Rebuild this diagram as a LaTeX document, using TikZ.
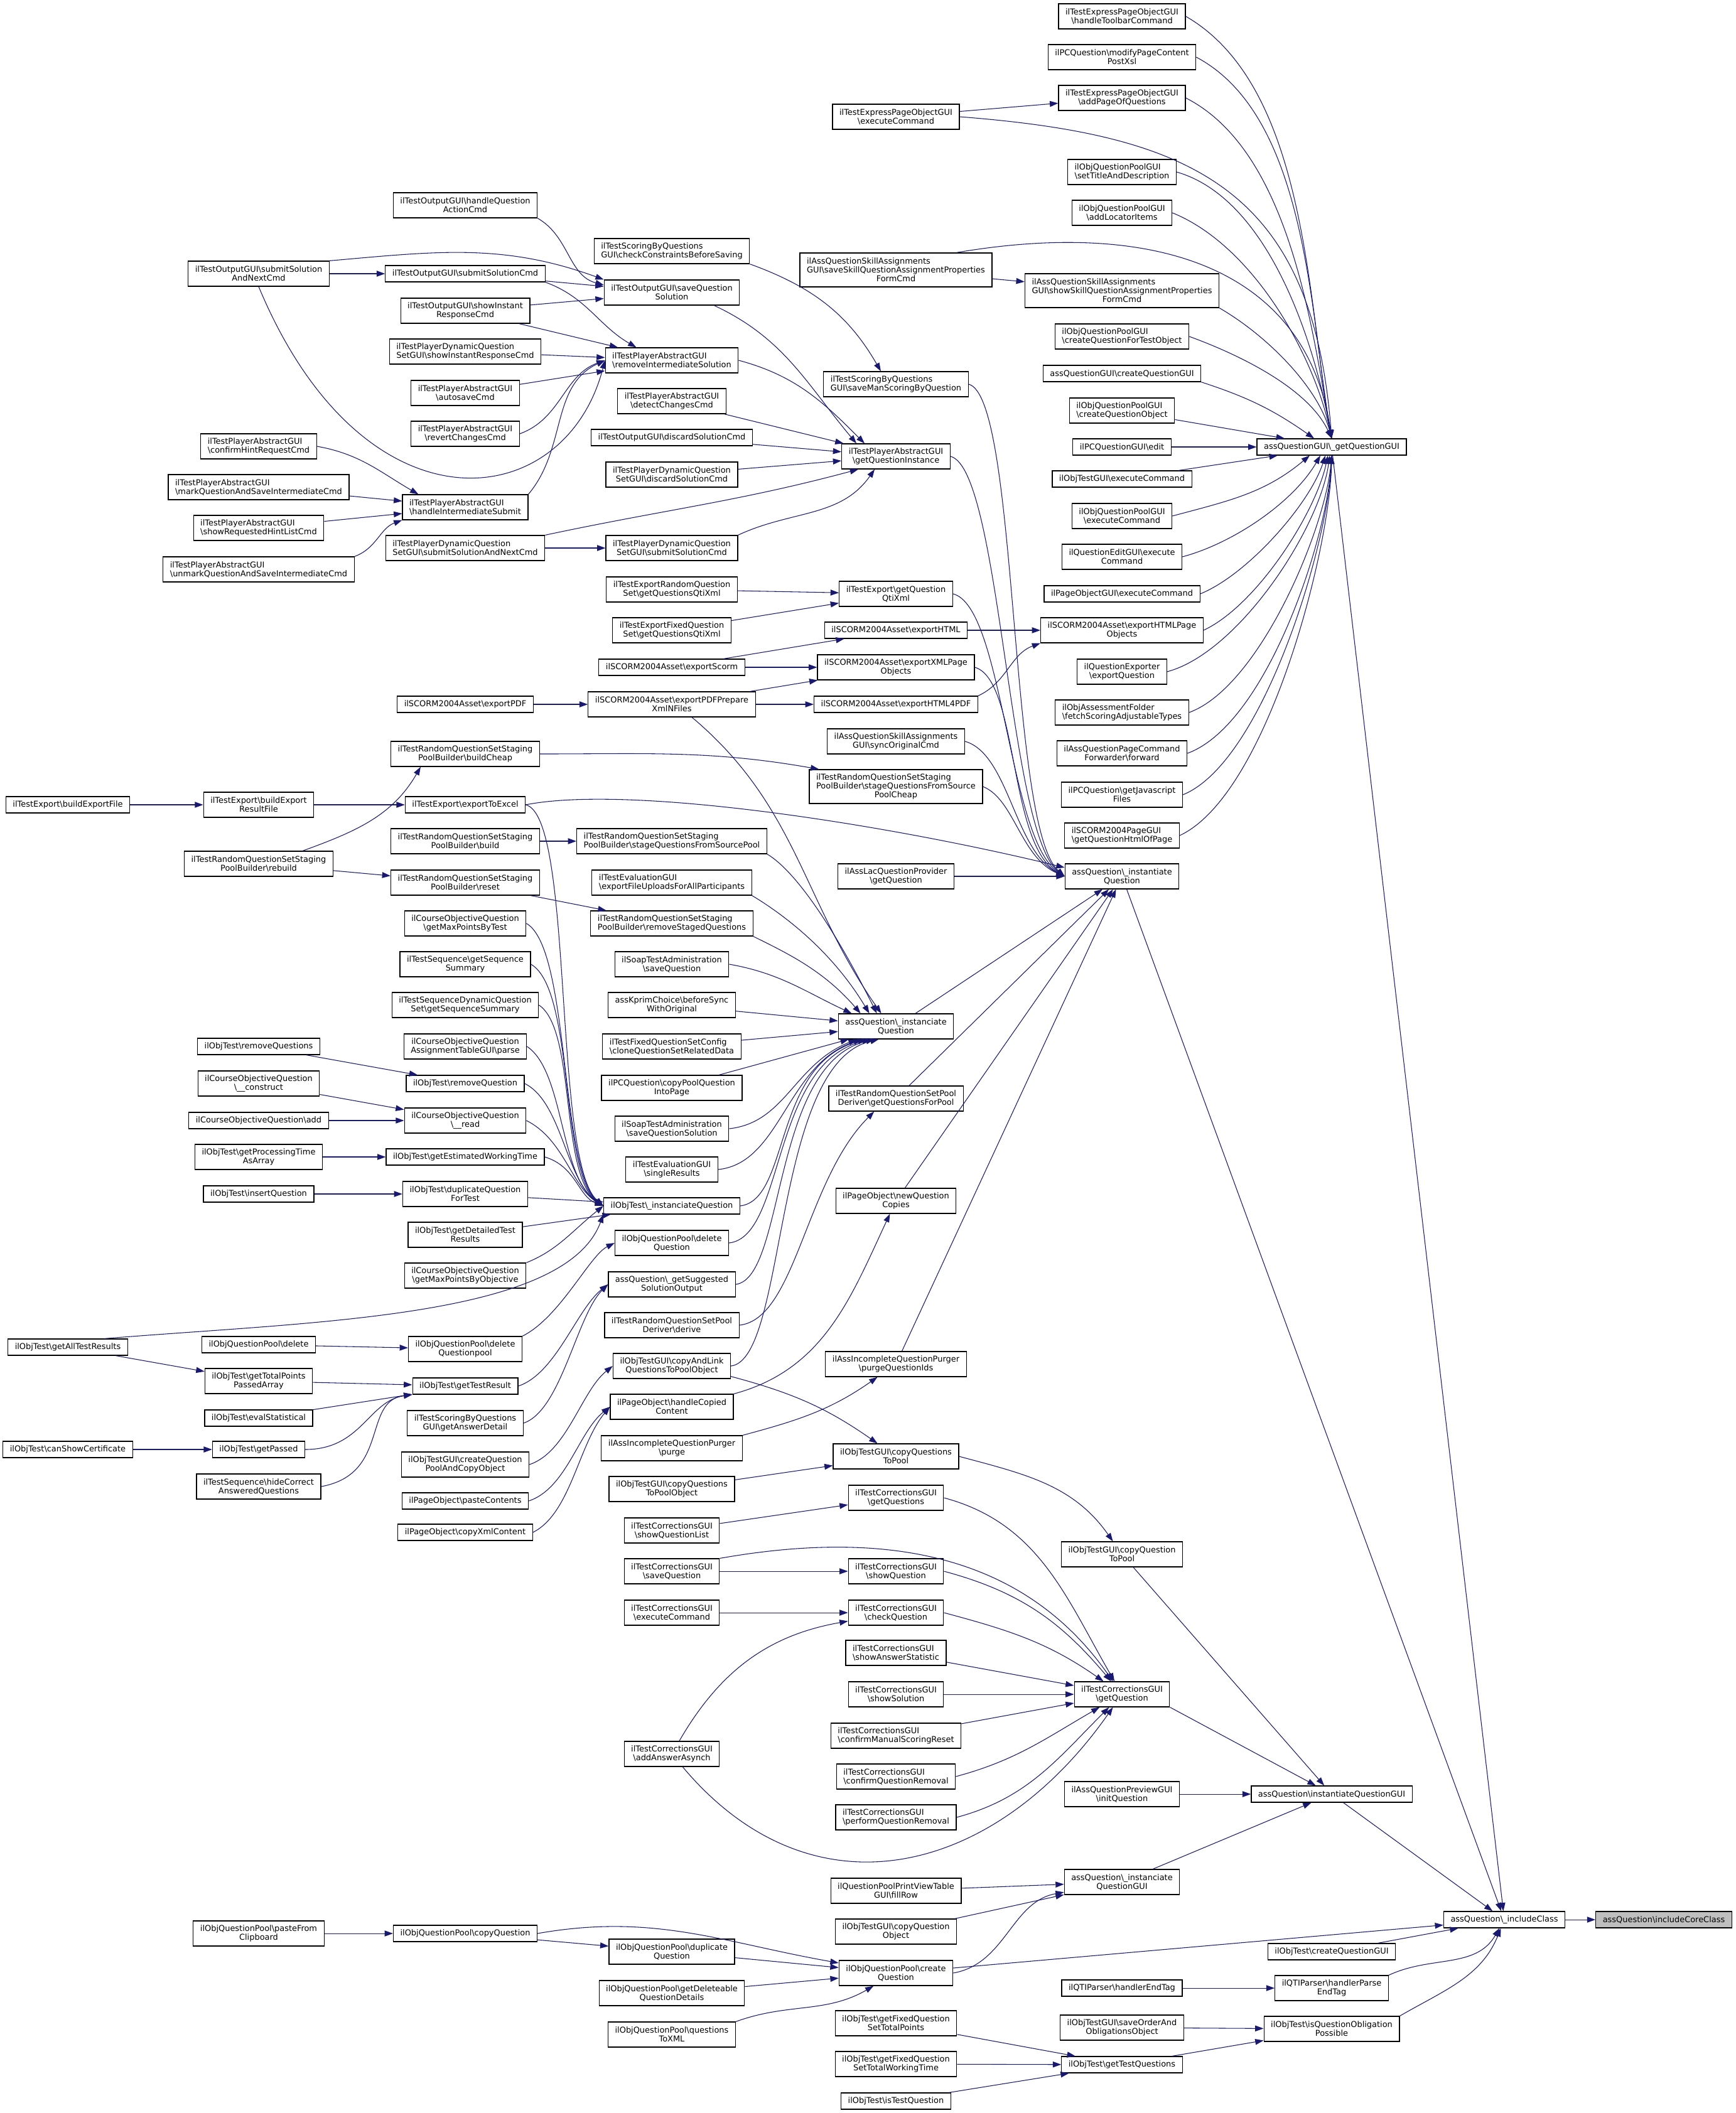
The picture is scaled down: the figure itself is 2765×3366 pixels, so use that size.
\documentclass[tikz,border=0pt]{standalone}
\usepackage{fontspec}
\setmainfont{DejaVu Sans}
\usepackage{calc}
\usetikzlibrary{arrows.meta,calc}
\definecolor{edgeblue}{RGB}{25,25,112}
\tikzstyle{fn}=[rectangle, draw=black, line width=0.9pt, fill=white, inner xsep=8.3pt, inner ysep=0pt, minimum height=19.5pt, align=center, anchor=center]
\tikzstyle{fnii}=[fn, minimum height=30pt]
\tikzstyle{fniii}=[fn, minimum height=40.5pt]
\tikzstyle{lft}=[align=left]
\tikzstyle{root}=[fill=black!25]
\tikzstyle{call}=[draw=edgeblue, line width=0.8pt, -{Triangle[length=10pt,width=7pt]}]
\newcommand{\bs}{\textbackslash}
\newcommand{\firstleft}[2]{\makebox[\widthof{#2}][l]{#1}\\#2}

\begin{document}
\begin{tikzpicture}[x=0.75pt, y=-0.75pt, font=\fontsize{9.7}{10.5}\selectfont]
	\useasboundingbox (0,0) rectangle (2765,3366);

	% first column
	\node[fn] (exportFile) at (108,1282) {ilTestExport\bs buildExportFile};
	\node[fn] (allResults) at (108,2146) {ilObjTest\bs getAllTestResults};
	\node[fn] (certificate) at (108,2309) {ilObjTest\bs canShowCertificate};

	% second column
	\node[fnii] (submitNext) at (412,436) {ilTestOutputGUI\bs submitSolution\\AndNextCmd};
	\node[fnii,lft] (hintRequest) at (412,711) {ilTestPlayerAbstractGUI\\\bs confirmHintRequestCmd};
	\node[fnii,lft] (markSave) at (412,776) {ilTestPlayerAbstractGUI\\\bs markQuestionAndSaveIntermediateCmd};
	\node[fnii,lft] (hintList) at (412,841) {ilTestPlayerAbstractGUI\\\bs showRequestedHintListCmd};
	\node[fnii,lft] (unmarkSave) at (412,907) {ilTestPlayerAbstractGUI\\\bs unmarkQuestionAndSaveIntermediateCmd};
	\node[fnii] (resultFile) at (412,1282) {ilTestExport\bs buildExport\\ResultFile};
	\node[fnii] (rebuild) at (412,1376) {ilTestRandomQuestionSetStaging\\PoolBuilder\bs rebuild};
	\node[fn] (removeQuestions) at (412,1667) {ilObjTest\bs removeQuestions};
	\node[fnii] (construct) at (412,1726) {ilCourseObjectiveQuestion\\\bs\_\_construct};
	\node[fn] (objAdd) at (412,1785) {ilCourseObjectiveQuestion\bs add};
	\node[fnii] (timeArray) at (412,1843) {ilObjTest\bs getProcessingTime\\AsArray};
	\node[fn] (insertQ) at (412,1902) {ilObjTest\bs insertQuestion};
	\node[fn] (poolDelete) at (412,2142) {ilObjQuestionPool\bs delete};
	\node[fnii] (totalPoints) at (412,2200) {ilObjTest\bs getTotalPoints\\PassedArray};
	\node[fn] (evalStat) at (412,2259) {ilObjTest\bs evalStatistical};
	\node[fn] (getPassed) at (412,2309) {ilObjTest\bs getPassed};
	\node[fnii] (hideCorrect) at (412,2368) {ilTestSequence\bs hideCorrect\\AnsweredQuestions};
	\node[fnii] (pasteClipboard) at (412,3080) {ilObjQuestionPool\bs pasteFrom\\Clipboard};

	% third column
	\node[fnii] (questionAction) at (741,327) {ilTestOutputGUI\bs handleQuestion\\ActionCmd};
	\node[fn] (submitCmd) at (741,436) {ilTestOutputGUI\bs submitSolutionCmd};
	\node[fnii] (instantResponse) at (741,495) {ilTestOutputGUI\bs showInstant\\ResponseCmd};
	\node[fnii,lft] (dynInstant) at (741,560) {ilTestPlayerDynamicQuestion\\SetGUI\bs showInstantResponseCmd};
	\node[fnii] (autosave) at (741,626) {ilTestPlayerAbstractGUI\\\bs autosaveCmd};
	\node[fnii] (revertChanges) at (741,691) {ilTestPlayerAbstractGUI\\\bs revertChangesCmd};
	\node[fnii,lft] (intermediateSubmit) at (741,808) {ilTestPlayerAbstractGUI\\\bs handleIntermediateSubmit};
	\node[fnii,lft] (dynSubmitNext) at (741,873) {ilTestPlayerDynamicQuestion\\SetGUI\bs submitSolutionAndNextCmd};
	\node[fn] (exportPdf) at (741,1122) {ilSCORM2004Asset\bs exportPDF};
	\node[fnii] (buildCheap) at (741,1201) {ilTestRandomQuestionSetStaging\\PoolBuilder\bs buildCheap};
	\node[fn] (toExcel) at (741,1282) {ilTestExport\bs exportToExcel};
	\node[fnii] (poolBuild) at (741,1340) {ilTestRandomQuestionSetStaging\\PoolBuilder\bs build};
	\node[fnii] (poolReset) at (741,1406) {ilTestRandomQuestionSetStaging\\PoolBuilder\bs reset};
	\node[fnii] (maxByTest) at (741,1471) {ilCourseObjectiveQuestion\\\bs getMaxPointsByTest};
	\node[fnii] (seqSummary) at (741,1536) {ilTestSequence\bs getSequence\\Summary};
	\node[fnii] (dynSeqSummary) at (741,1601) {ilTestSequenceDynamicQuestion\\Set\bs getSequenceSummary};
	\node[fnii] (assignParse) at (741,1667) {ilCourseObjectiveQuestion\\AssignmentTableGUI\bs parse};
	\node[fn] (removeQuestion) at (741,1726) {ilObjTest\bs removeQuestion};
	\node[fnii] (objRead) at (741,1785) {ilCourseObjectiveQuestion\\\bs\_\_read};
	\node[fn] (workingTime) at (741,1843) {ilObjTest\bs getEstimatedWorkingTime};
	\node[fnii] (duplicateForTest) at (741,1902) {ilObjTest\bs duplicateQuestion\\ForTest};
	\node[fnii] (detailedResults) at (741,1967) {ilObjTest\bs getDetailedTest\\Results};
	\node[fnii] (maxByObjective) at (741,2032) {ilCourseObjectiveQuestion\\\bs getMaxPointsByObjective};
	\node[fnii] (deletePool) at (741,2149) {ilObjQuestionPool\bs delete\\Questionpool};
	\node[fn] (testResult) at (741,2208) {ilObjTest\bs getTestResult};
	\node[fnii] (answerDetail) at (741,2267) {ilTestScoringByQuestions\\GUI\bs getAnswerDetail};
	\node[fnii] (poolAndCopy) at (741,2333) {ilObjTestGUI\bs createQuestion\\PoolAndCopyObject};
	\node[fn] (pasteContents) at (741,2391) {ilPageObject\bs pasteContents};
	\node[fn] (copyXml) at (741,2441) {ilPageObject\bs copyXmlContent};
	\node[fn] (poolCopy) at (741,3080) {ilObjQuestionPool\bs copyQuestion};

	% fourth column
	\node[fnii,lft] (checkConstraints) at (1070,400) {ilTestScoringByQuestions\\GUI\bs checkConstraintsBeforeSaving};
	\node[fnii] (saveSolution) at (1070,466) {ilTestOutputGUI\bs saveQuestion\\Solution};
	\node[fnii,lft] (removeIntermediate) at (1070,574) {ilTestPlayerAbstractGUI\\\bs removeIntermediateSolution};
	\node[fnii] (detectChanges) at (1070,639) {ilTestPlayerAbstractGUI\\\bs detectChangesCmd};
	\node[fn] (discardSolution) at (1070,697) {ilTestOutputGUI\bs discardSolutionCmd};
	\node[fnii] (dynDiscard) at (1070,756) {ilTestPlayerDynamicQuestion\\SetGUI\bs discardSolutionCmd};
	\node[fnii] (dynSubmit) at (1070,873) {ilTestPlayerDynamicQuestion\\SetGUI\bs submitSolutionCmd};
	\node[fnii] (randomQti) at (1070,939) {ilTestExportRandomQuestion\\Set\bs getQuestionsQtiXml};
	\node[fnii] (fixedQti) at (1070,1004) {ilTestExportFixedQuestion\\Set\bs getQuestionsQtiXml};
	\node[fn] (exportScorm) at (1070,1063) {ilSCORM2004Asset\bs exportScorm};
	\node[fnii] (pdfPrepare) at (1070,1122) {ilSCORM2004Asset\bs exportPDFPrepare\\XmlNFiles};
	\node[fnii,lft] (sourcePool) at (1070,1340) {ilTestRandomQuestionSetStaging\\PoolBuilder\bs stageQuestionsFromSourcePool};
	\node[fnii,lft] (fileUploads) at (1070,1406) {ilTestEvaluationGUI\\\bs exportFileUploadsForAllParticipants};
	\node[fnii,lft] (removeStaged) at (1070,1471) {ilTestRandomQuestionSetStaging\\PoolBuilder\bs removeStagedQuestions};
	\node[fnii] (soapSave) at (1070,1536) {ilSoapTestAdministration\\\bs saveQuestion};
	\node[fnii] (kprimSync) at (1070,1601) {assKprimChoice\bs beforeSync\\WithOriginal};
	\node[fnii,lft] (cloneRelated) at (1070,1667) {ilTestFixedQuestionSetConfig\\\bs cloneQuestionSetRelatedData};
	\node[fnii] (copyPoolPage) at (1070,1733) {ilPCQuestion\bs copyPoolQuestion\\IntoPage};
	\node[fnii] (soapSolution) at (1070,1798) {ilSoapTestAdministration\\\bs saveQuestionSolution};
	\node[fnii] (singleResults) at (1070,1863) {ilTestEvaluationGUI\\\bs singleResults};
	\node[fn] (testInstanciate) at (1070,1921) {ilObjTest\bs\_instanciateQuestion};
	\node[fnii] (deleteQuestion) at (1070,1980) {ilObjQuestionPool\bs delete\\Question};
	\node[fnii] (suggestedOutput) at (1070,2046) {assQuestion\bs\_getSuggested\\SolutionOutput};
	\node[fnii] (derive) at (1070,2111) {ilTestRandomQuestionSetPool\\Deriver\bs derive};
	\node[fnii] (copyAndLink) at (1070,2176) {ilObjTestGUI\bs copyAndLink\\QuestionsToPoolObject};
	\node[fnii] (copiedContent) at (1070,2241) {ilPageObject\bs handleCopied\\Content};
	\node[fnii] (purge) at (1070,2307) {ilAssIncompleteQuestionPurger\\\bs purge};
	\node[fnii] (copyToPoolObj) at (1070,2372) {ilObjTestGUI\bs copyQuestions\\ToPoolObject};
	\node[fnii] (questionList) at (1070,2438) {ilTestCorrectionsGUI\\\bs showQuestionList};
	\node[fnii] (corrSave) at (1070,2503) {ilTestCorrectionsGUI\\\bs saveQuestion};
	\node[fnii] (corrExec) at (1070,2569) {ilTestCorrectionsGUI\\\bs executeCommand};
	\node[fnii] (answerAsynch) at (1070,2794) {ilTestCorrectionsGUI\\\bs addAnswerAsynch};
	\node[fnii] (duplicateQ) at (1070,3109) {ilObjQuestionPool\bs duplicate\\Question};
	\node[fnii] (deleteableDetails) at (1070,3175) {ilObjQuestionPool\bs getDeleteable\\QuestionDetails};
	\node[fnii] (toXml) at (1070,3241) {ilObjQuestionPool\bs questions\\ToXML};

	% fifth column
	\node[fnii] (expressExec) at (1427,186) {ilTestExpressPageObjectGUI\\\bs executeCommand};
	\node[fniii] (saveSkill) at (1427,430) {\firstleft{ilAssQuestionSkillAssignments}{GUI\bs saveSkillQuestionAssignmentProperties}\\FormCmd};
	\node[fnii,lft] (manScoring) at (1427,612) {ilTestScoringByQuestions\\GUI\bs saveManScoringByQuestion};
	\node[fnii] (questionInstance) at (1427,727) {ilTestPlayerAbstractGUI\\\bs getQuestionInstance};
	\node[fnii] (questionQti) at (1427,946) {ilTestExport\bs getQuestion\\QtiXml};
	\node[fn] (exportHtml) at (1427,1004) {ilSCORM2004Asset\bs exportHTML};
	\node[fnii] (xmlPages) at (1427,1063) {ilSCORM2004Asset\bs exportXMLPage\\Objects};
	\node[fn] (html4pdf) at (1427,1122) {ilSCORM2004Asset\bs exportHTML4PDF};
	\node[fnii] (syncOriginal) at (1427,1181) {ilAssQuestionSkillAssignments\\GUI\bs syncOriginalCmd};
	\node[fniii] (sourcePoolCheap) at (1427,1253) {\firstleft{ilTestRandomQuestionSetStaging}{PoolBuilder\bs stageQuestionsFromSource}\\PoolCheap};
	\node[fnii] (lacProvider) at (1427,1396) {ilAssLacQuestionProvider\\\bs getQuestion};
	\node[fnii] (instanciateQ) at (1427,1635) {assQuestion\bs\_instanciate\\Question};
	\node[fnii] (questionsForPool) at (1427,1750) {ilTestRandomQuestionSetPool\\Deriver\bs getQuestionsForPool};
	\node[fnii] (newCopies) at (1427,1913) {ilPageObject\bs newQuestion\\Copies};
	\node[fnii] (purgeIds) at (1427,2173) {ilAssIncompleteQuestionPurger\\\bs purgeQuestionIds};
	\node[fnii] (copyToPool) at (1427,2320) {ilObjTestGUI\bs copyQuestions\\ToPool};
	\node[fnii] (corrQuestions) at (1427,2386) {ilTestCorrectionsGUI\\\bs getQuestions};
	\node[fnii] (corrShow) at (1427,2503) {ilTestCorrectionsGUI\\\bs showQuestion};
	\node[fnii] (corrCheck) at (1427,2569) {ilTestCorrectionsGUI\\\bs checkQuestion};
	\node[fnii,lft] (corrStats) at (1427,2633) {ilTestCorrectionsGUI\\\bs showAnswerStatistic};
	\node[fnii] (corrSolution) at (1427,2699) {ilTestCorrectionsGUI\\\bs showSolution};
	\node[fnii,lft] (scoringReset) at (1427,2765) {ilTestCorrectionsGUI\\\bs confirmManualScoringReset};
	\node[fnii,lft] (confirmRemoval) at (1427,2830) {ilTestCorrectionsGUI\\\bs confirmQuestionRemoval};
	\node[fnii,lft] (performRemoval) at (1427,2895) {ilTestCorrectionsGUI\\\bs performQuestionRemoval};
	\node[fnii] (fillRow) at (1427,3012) {ilQuestionPoolPrintViewTable\\GUI\bs fillRow};
	\node[fnii] (copyQObject) at (1427,3077) {ilObjTestGUI\bs copyQuestion\\Object};
	\node[fnii] (createQ) at (1427,3143) {ilObjQuestionPool\bs create\\Question};
	\node[fnii] (fixedPoints) at (1427,3223) {ilObjTest\bs getFixedQuestion\\SetTotalPoints};
	\node[fnii] (fixedTime) at (1427,3288) {ilObjTest\bs getFixedQuestion\\SetTotalWorkingTime};
	\node[fn] (isTestQ) at (1427,3347) {ilObjTest\bs isTestQuestion};

	% sixth column
	\node[fnii] (toolbar) at (1787,26) {ilTestExpressPageObjectGUI\\\bs handleToolbarCommand};
	\node[fnii] (postXsl) at (1787,91) {ilPCQuestion\bs modifyPageContent\\PostXsl};
	\node[fnii] (addPage) at (1787,156) {ilTestExpressPageObjectGUI\\\bs addPageOfQuestions};
	\node[fnii,lft] (setTitle) at (1787,274) {ilObjQuestionPoolGUI\\\bs setTitleAndDescription};
	\node[fnii] (locator) at (1787,339) {ilObjQuestionPoolGUI\\\bs addLocatorItems};
	\node[fniii] (showSkill) at (1787,463) {\firstleft{ilAssQuestionSkillAssignments}{GUI\bs showSkillQuestionAssignmentProperties}\\FormCmd};
	\node[fnii,lft] (forTestObj) at (1787,536) {ilObjQuestionPoolGUI\\\bs createQuestionForTestObject};
	\node[fn] (createQGUI) at (1787,595) {assQuestionGUI\bs createQuestionGUI};
	\node[fnii,lft] (createQObj) at (1787,654) {ilObjQuestionPoolGUI\\\bs createQuestionObject};
	\node[fn] (pcEdit) at (1787,712) {ilPCQuestionGUI\bs edit};
	\node[fn] (testExec) at (1787,763) {ilObjTestGUI\bs executeCommand};
	\node[fnii] (poolExec) at (1787,822) {ilObjQuestionPoolGUI\\\bs executeCommand};
	\node[fnii] (editExec) at (1787,887) {ilQuestionEditGUI\bs execute\\Command};
	\node[fn] (pageExec) at (1787,946) {ilPageObjectGUI\bs executeCommand};
	\node[fnii] (htmlPages) at (1787,1004) {ilSCORM2004Asset\bs exportHTMLPage\\Objects};
	\node[fnii] (qExporter) at (1787,1070) {ilQuestionExporter\\\bs exportQuestion};
	\node[fnii,lft] (scoringTypes) at (1787,1135) {ilObjAssessmentFolder\\\bs fetchScoringAdjustableTypes};
	\node[fnii] (pageForward) at (1787,1200) {ilAssQuestionPageCommand\\Forwarder\bs forward};
	\node[fnii] (jsFiles) at (1787,1266) {ilPCQuestion\bs getJavascript\\Files};
	\node[fnii,lft] (htmlOfPage) at (1787,1331) {ilSCORM2004PageGUI\\\bs getQuestionHtmlOfPage};
	\node[fnii] (instantiateQ) at (1787,1396) {assQuestion\bs\_instantiate\\Question};
	\node[fnii] (copyQToPool) at (1787,2476) {ilObjTestGUI\bs copyQuestion\\ToPool};
	\node[fnii] (corrGet) at (1787,2699) {ilTestCorrectionsGUI\\\bs getQuestion};
	\node[fnii] (previewInit) at (1787,2858) {ilAssQuestionPreviewGUI\\\bs initQuestion};
	\node[fnii] (instanciateGUI) at (1787,2998) {assQuestion\bs\_instanciate\\QuestionGUI};
	\node[fn] (endTag) at (1787,3167) {ilQTIParser\bs handlerEndTag};
	\node[fnii] (saveObligations) at (1787,3230) {ilObjTestGUI\bs saveOrderAnd\\ObligationsObject};
	\node[fn] (testQuestions) at (1787,3289) {ilObjTest\bs getTestQuestions};

	% right columns
	\node[fn] (getQGUI) at (2121,712) {assQuestionGUI\bs\_getQuestionGUI};
	\node[fn] (instantiateGUI) at (2121,2858) {assQuestion\bs instantiateQuestionGUI};
	\node[fn] (testCreateGUI) at (2121,3109) {ilObjTest\bs createQuestionGUI};
	\node[fnii] (parseEndTag) at (2121,3167) {ilQTIParser\bs handlerParse\\EndTag};
	\node[fnii] (obligationPossible) at (2121,3232) {ilObjTest\bs isQuestionObligation\\Possible};
	\node[fn] (includeClass) at (2396,3058) {assQuestion\bs\_includeClass};
	\node[fn,root] (coreClass) at (2650,3058) {assQuestion\bs includeCoreClass};

	% callers of the root
	\draw[call] (includeClass) -- (coreClass);
	\draw[call] (getQGUI) -- (includeClass);
	\draw[call] (instantiateQ) -- (includeClass);
	\draw[call] (instantiateGUI) -- (includeClass);
	\draw[call] (createQ) -- (includeClass);
	\draw[call] (testCreateGUI) -- (includeClass);
	\draw[call] (parseEndTag.north east) to[out=25,in=-120] (includeClass);
	\draw[call] (obligationPossible.north east) to[out=30,in=-112] (includeClass);

	\draw[call] (corrGet.south east) -- (instantiateGUI);
	\draw[call] (copyQToPool) -- (instantiateGUI);
	\draw[call] (previewInit) -- (instantiateGUI);
	\draw[call] (instanciateGUI) -- (instantiateGUI);
	\draw[call] (fillRow) -- (instanciateGUI);
	\draw[call] (copyQObject) -- (instanciateGUI);
	\draw[call] (createQ.east) to[out=10,in=190] (instanciateGUI);

	\draw[call] (endTag) -- (parseEndTag);
	\draw[call] (saveObligations) -- (obligationPossible);
	\draw[call] (testQuestions) -- (obligationPossible);
	\draw[call] (fixedPoints) -- (testQuestions);
	\draw[call] (fixedTime) -- (testQuestions);
	\draw[call] (isTestQ) -- (testQuestions);

	\draw[call] (pasteClipboard) -- (poolCopy);
	\draw[call] (poolCopy.east) to[out=10,in=170] (createQ);
	\draw[call] (poolCopy) -- (duplicateQ);
	\draw[call] (duplicateQ) -- (createQ);
	\draw[call] (deleteableDetails) -- (createQ);
	\draw[call] (toXml.north east) to[out=20,in=-150] (createQ);

	% corrections
	\draw[call] (corrSave) -- (corrShow);
	\draw[call] (corrExec) -- (corrCheck);
	\draw[call] (questionList) -- (corrQuestions);
	\draw[call] (answerAsynch) to[out=60,in=190] (corrCheck);
	\draw[call] (corrQuestions.east) to[out=-15,in=120] (corrGet);
	\draw[call] (corrSave.north east) to[out=10,in=125] (corrGet);
	\draw[call] (corrShow.east) to[out=-15,in=130] (corrGet);
	\draw[call] (corrCheck.east) to[out=-15,in=145] (corrGet);
	\draw[call] (corrStats) -- (corrGet);
	\draw[call] (corrSolution) -- (corrGet);
	\draw[call] (scoringReset) -- (corrGet);
	\draw[call] (confirmRemoval.east) to[out=15,in=-150] (corrGet);
	\draw[call] (performRemoval.east) to[out=15,in=-135] (corrGet);
	\draw[call] (answerAsynch) to[out=-50,in=-125,looseness=1.2] (corrGet);

	\draw[call] (copyToPoolObj) -- (copyToPool);
	\draw[call] (copyAndLink.-10) to[out=-15,in=145] (copyToPool);
	\draw[call] (copyToPool.east) to[out=-15,in=125] (copyQToPool);
	\draw[call] (purge.north east) to[out=15,in=-145] (purgeIds);

	% into assQuestion\_instantiateQuestion
	\draw[call] (purgeIds) -- (instantiateQ);
	\draw[call] (copiedContent.north east) to[out=15,in=-115] (newCopies);
	\draw[call] (newCopies) -- (instantiateQ);
	\draw[call] (questionsForPool) -- (instantiateQ);
	\draw[call] (instanciateQ) -- (instantiateQ);
	\draw[call] (lacProvider) -- (instantiateQ);
	\draw[call] (manScoring.east) .. controls +(80,20) and +(-90,-80) .. (instantiateQ.west);
	\draw[call] (questionInstance.east) .. controls +(80,20) and +(-90,-70) .. (instantiateQ.west);
	\draw[call] (questionQti.east) .. controls +(80,20) and +(-90,-60) .. (instantiateQ.west);
	\draw[call] (xmlPages.east) .. controls +(70,20) and +(-90,-50) .. (instantiateQ.west);
	\draw[call] (syncOriginal.east) .. controls +(70,20) and +(-80,-40) .. (instantiateQ.west);
	\draw[call] (sourcePoolCheap.east) .. controls +(50,20) and +(-70,-30) .. (instantiateQ.west);
	\draw[call] (toExcel.east) .. controls (1000,1250) and (1400,1310) .. ($(instantiateQ.west)+(0,-14)$);

	% into assQuestionGUI\_getQuestionGUI
	\draw[call] (toolbar.east) to[out=-30,in=100,looseness=0.8] (getQGUI.north);
	\draw[call] (postXsl.east) to[out=-28,in=100,looseness=0.8] (getQGUI.north);
	\draw[call] (addPage.east) to[out=-27,in=100,looseness=0.8] (getQGUI.north);
	\draw[call] (expressExec) -- (addPage);
	\draw[call] (expressExec.east) .. controls (1900,215) and (2090,300) .. (getQGUI.north);
	\draw[call] (setTitle.east) to[out=-16,in=100,looseness=0.8] (getQGUI.north);
	\draw[call] (locator.east) to[out=-22,in=102,looseness=0.8] (getQGUI.north);
	\draw[call] (saveSkill.16) .. controls (1830,350) and (2080,420) .. (getQGUI.north);
	\draw[call] (saveSkill) -- (showSkill);
	\draw[call] (showSkill.south east) to[out=-30,in=105,looseness=0.8] (getQGUI.north);
	\draw[call] (forTestObj.east) to[out=-20,in=115,looseness=0.8] (getQGUI.north);
	\draw[call] (createQGUI.south east) to[out=-18,in=145] ($(getQGUI.north)+(-28,0)$);
	\draw[call] (createQObj) -- ($(getQGUI.north)+(-75,0)$);
	\draw[call] (pcEdit) -- (getQGUI);
	\draw[call] (testExec) -- ($(getQGUI.south)+(-86,0)$);
	\draw[call] (poolExec.east) to[out=15,in=-140] ($(getQGUI.south)+(-35,0)$);
	\draw[call] (editExec.east) to[out=15,in=-120,looseness=0.8] ($(getQGUI.south)+(-18,0)$);
	\draw[call] (pageExec.east) to[out=22,in=-108,looseness=0.7] ($(getQGUI.south)+(-10,0)$);
	\draw[call] (htmlPages.east) to[out=25,in=-102,looseness=0.7] ($(getQGUI.south)+(-6,0)$);
	\draw[call] (qExporter.east) to[out=15,in=-98,looseness=0.7] ($(getQGUI.south)+(-3,0)$);
	\draw[call] (scoringTypes.east) to[out=20,in=-95,looseness=0.65] (getQGUI.south);
	\draw[call] (pageForward.east) to[out=20,in=-93,looseness=0.65] (getQGUI.south);
	\draw[call] (jsFiles.east) to[out=22,in=-92,looseness=0.6] (getQGUI.south);
	\draw[call] (htmlOfPage.east) to[out=25,in=-91,looseness=0.6] (getQGUI.south);

	% test player
	\draw[call] (checkConstraints.south east) to[out=-20,in=120] ($(manScoring.north)+(-24,0)$);
	\draw[call] (saveSolution.-17) to[out=-25,in=130] ($(questionInstance.north west)+(24,0)$);
	\draw[call] (removeIntermediate.east) to[out=-15,in=135] ($(questionInstance.north west)+(37,0)$);
	\draw[call] (detectChanges) -- (questionInstance);
	\draw[call] (discardSolution) -- (questionInstance);
	\draw[call] (dynDiscard) -- (questionInstance);
	\draw[call] (dynSubmitNext.north east) to[out=12,in=195] ($(questionInstance.south west)+(27,0)$);
	\draw[call] (dynSubmit.north east) to[out=25,in=-125] ($(questionInstance.south west)+(53,0)$);
	\draw[call] (dynSubmitNext) -- (dynSubmit);

	\draw[call] (submitNext) -- (submitCmd);
	\draw[call] (submitNext.north east) to[out=5,in=160] (saveSolution.north west);
	\draw[call] (submitNext.south) .. controls (580,860) and (900,820) .. (removeIntermediate.west);
	\draw[call] (questionAction.south east) to[out=-30,in=165] ($(saveSolution.west)+(0,-12)$);
	\draw[call] (submitCmd) -- (saveSolution);
	\draw[call] (submitCmd.south east) to[out=-20,in=150] ($(removeIntermediate.north west)+(50,0)$);
	\draw[call] (instantResponse) -- (saveSolution);
	\draw[call] (instantResponse) -- (removeIntermediate);
	\draw[call] (dynInstant) -- (removeIntermediate);
	\draw[call] (autosave) -- (removeIntermediate);
	\draw[call] (revertChanges.east) to[out=20,in=200] (removeIntermediate.west);
	\draw[call] (intermediateSubmit.north east) to[out=50,in=205] (removeIntermediate.west);
	\draw[call] (hintRequest.east) to[out=-10,in=150] ($(intermediateSubmit.north west)+(26,0)$);
	\draw[call] (markSave) -- (intermediateSubmit);
	\draw[call] (hintList) -- (intermediateSubmit);
	\draw[call] (unmarkSave.north east) to[out=20,in=200] (intermediateSubmit.south west);

	% export and staging
	\draw[call] (randomQti) -- (questionQti);
	\draw[call] (fixedQti) -- (questionQti);
	\draw[call] (exportHtml) -- (htmlPages);
	\draw[call] (exportScorm) -- (exportHtml);
	\draw[call] (exportScorm) -- (xmlPages);
	\draw[call] (pdfPrepare) -- (xmlPages);
	\draw[call] (pdfPrepare) -- (html4pdf);
	\draw[call] (exportPdf) -- (pdfPrepare);
	\draw[call] (html4pdf.north east) to[out=25,in=200] (htmlPages.south west);
	\draw[call] (exportFile) -- (resultFile);
	\draw[call] (resultFile) -- (toExcel);
	\draw[call] ($(rebuild.north east)+(-49,0)$) to[out=20,in=-120] ($(buildCheap.south west)+(48,0)$);
	\draw[call] (rebuild) -- (poolReset);
	\draw[call] (buildCheap.east) to[out=0,in=170] ($(sourcePoolCheap.north west)+(16,0)$);
	\draw[call] (poolBuild) -- (sourcePool);
	\draw[call] (poolReset) -- (removeStaged);

	% into ilObjTest\_instanciateQuestion
	\draw[call] (toExcel.east) .. controls (915,1300) and (880,1850) .. (testInstanciate.west);
	\draw[call] (maxByTest.east) .. controls +(70,40) and +(-70,-60) .. (testInstanciate.west);
	\draw[call] (seqSummary.east) .. controls +(70,40) and +(-70,-55) .. (testInstanciate.west);
	\draw[call] (dynSeqSummary.east) .. controls +(60,40) and +(-70,-50) .. (testInstanciate.west);
	\draw[call] (assignParse.east) .. controls +(60,40) and +(-70,-45) .. (testInstanciate.west);
	\draw[call] (removeQuestion.east) .. controls +(60,30) and +(-60,-40) .. (testInstanciate.west);
	\draw[call] (objRead.east) .. controls +(60,30) and +(-50,-30) .. (testInstanciate.west);
	\draw[call] (workingTime.east) .. controls +(50,15) and +(-40,-15) .. (testInstanciate.west);
	\draw[call] (duplicateForTest) -- (testInstanciate);
	\draw[call] (detailedResults) -- (testInstanciate);
	\draw[call] (maxByObjective.north east) .. controls +(50,-20) and +(-50,40) .. (testInstanciate.west);
	\draw[call] ($(allResults.north)+(58,0)$) .. controls (500,2105) and (900,2100) .. (testInstanciate.south west);

	\draw[call] (removeQuestions) -- (removeQuestion);
	\draw[call] (construct) -- (objRead);
	\draw[call] (objAdd) -- (objRead);
	\draw[call] (timeArray) -- (workingTime);
	\draw[call] (insertQ) -- (duplicateForTest);
	\draw[call] (allResults) -- (totalPoints);
	\draw[call] (poolDelete) -- (deletePool);
	\draw[call] (deletePool.north east) .. controls +(60,-30) and +(-40,20) .. (deleteQuestion.west);
	\draw[call] (totalPoints) -- (testResult);
	\draw[call] (evalStat) -- (testResult);
	\draw[call] (getPassed.east) .. controls +(90,0) and +(-70,10) .. (testResult.south west);
	\draw[call] (hideCorrect.east) .. controls +(110,-20) and +(-80,10) .. (testResult.south west);
	\draw[call] (certificate) -- (getPassed);
	\draw[call] (testResult.east) .. controls +(60,-20) and +(-50,40) .. (suggestedOutput.west);
	\draw[call] (answerDetail.east) .. controls +(60,-20) and +(-50,50) .. (suggestedOutput.west);
	\draw[call] (poolAndCopy.east) .. controls +(60,-20) and +(-50,40) .. (copyAndLink.west);
	\draw[call] (pasteContents.east) .. controls +(60,-20) and +(-50,40) .. (copiedContent.west);
	\draw[call] (copyXml.east) .. controls +(60,-30) and +(-50,60) .. (copiedContent.west);

	% into assQuestion\_instanciateQuestion
	\draw[call] ($(pdfPrepare.south)+(32,0)$) to[out=-40,in=125] ($(instanciateQ.north west)+(69,0)$);
	\draw[call] (sourcePool.south east) .. controls +(50,30) and +(-60,-120) .. ($(instanciateQ.north west)+(62,0)$);
	\draw[call] (fileUploads.south east) .. controls +(50,30) and +(-60,-100) .. ($(instanciateQ.north west)+(50,0)$);
	\draw[call] (removeStaged.south east) .. controls +(50,25) and +(-60,-70) .. ($(instanciateQ.north west)+(36,0)$);
	\draw[call] (soapSave.east) to[out=-10,in=155] ($(instanciateQ.north west)+(22,0)$);
	\draw[call] (kprimSync) -- (instanciateQ);
	\draw[call] (cloneRelated) -- (instanciateQ);
	\draw[call] (copyPoolPage) -- (instanciateQ);
	\draw[call] (soapSolution.east) .. controls +(90,-10) and +(-100,40) .. ($(instanciateQ.south west)+(30,0)$);
	\draw[call] (singleResults.east) .. controls +(100,-10) and +(-120,40) .. ($(instanciateQ.south west)+(38,0)$);
	\draw[call] (testInstanciate.east) .. controls +(80,-10) and +(-150,40) .. ($(instanciateQ.south west)+(45,0)$);
	\draw[call] (deleteQuestion.east) .. controls +(90,-10) and +(-160,40) .. ($(instanciateQ.south west)+(52,0)$);
	\draw[call] (suggestedOutput.east) .. controls +(80,-10) and +(-165,40) .. ($(instanciateQ.south west)+(58,0)$);
	\draw[call] (copyAndLink.east) .. controls +(90,-10) and +(-170,40) .. ($(instanciateQ.south west)+(65,0)$);
	\draw[call] (derive.east) .. controls +(90,-10) and +(-110,110) .. ($(questionsForPool.south west)+(73,0)$);
\end{tikzpicture}
\end{document}
